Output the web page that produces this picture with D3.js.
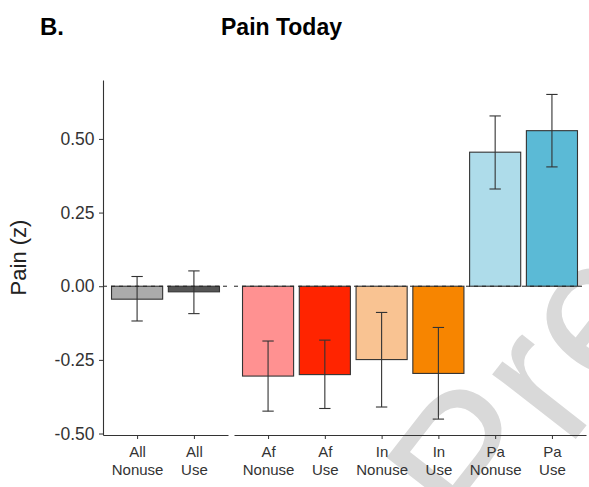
<!DOCTYPE html>
<html>
<head>
<meta charset="utf-8">
<script src="https://cdn.jsdelivr.net/npm/d3@7"></script>
<style>
  body { margin: 0; background: #fff; }
  svg { font-family: "Liberation Sans", Arial, Helvetica, sans-serif; }
</style>
</head>
<body>
<svg width="589" height="487"></svg>
<script>
// groups of bars (two facets)
const groupAll = ['All Nonuse', 'All Use'];
const groupSub = ['Af Nonuse', 'Af Use', 'In Nonuse', 'In Use', 'Pa Nonuse', 'Pa Use'];
// mean pain (z) with error bar ends
const meanPain = [-0.044, -0.019, -0.305, -0.300, -0.249, -0.296, 0.455, 0.528];
const lowPain = [-0.118, -0.093, -0.424, -0.415, -0.410, -0.451, 0.330, 0.405];
const highPain = [0.033, 0.052, -0.186, -0.183, -0.089, -0.140, 0.578, 0.651];
const barColors = ['#ababab', '#555555', '#ff9191', '#ff2400', '#f9c392', '#f78500', '#aedcea', '#5bbad6'];
const yTicks = [-0.50, -0.25, 0.00, 0.25, 0.50];

const allCats = groupAll.concat(groupSub);
const data = allCats.map((c, i) => ({
  cat: c, mean: meanPain[i], lo: lowPain[i], hi: highPain[i], color: barColors[i],
  facet: i < groupAll.length ? 0 : 1
}));

const svg = d3.select('svg');
const plotTop = 80, plotBottom = 435;

const y = d3.scaleLinear()
  .domain([-0.505, 0.70])
  .range([plotBottom, plotTop]);

// facet panels
const panels = [
  { cats: groupAll, x0: 103, x1: 228 },
  { cats: groupSub, x0: 234, x1: 586 }
];

// big preprint watermark, mostly outside the picture
svg.append('text')
  .attr('transform', 'translate(485,555) rotate(-52)')
  .attr('font-size', 200)
  .attr('fill', '#d9d9d9')
  .text('Preprint');

panels.forEach((p, pi) => {
  const x = d3.scalePoint()
    .domain(p.cats)
    .range([p.x0, p.x1])
    .padding(0.6);
  const bw = x.step() * 0.9;
  const g = svg.append('g');
  const rows = data.filter(d => d.facet === pi);

  g.selectAll('rect.bar')
    .data(rows)
    .enter()
    .append('rect')
    .attr('class', 'bar')
    .attr('x', d => x(d.cat) - bw / 2)
    .attr('y', d => y(Math.max(0, d.mean)))
    .attr('width', bw)
    .attr('height', d => Math.abs(y(d.mean) - y(0)))
    .attr('fill', d => d.color)
    .attr('stroke', '#333')
    .attr('stroke-width', 1.1);

  // error bars
  const cap = x.step() * 0.1;
  const eb = g.selectAll('g.err')
    .data(rows)
    .enter()
    .append('g')
    .attr('stroke', '#333')
    .attr('stroke-width', 1.1);
  eb.append('line')
    .attr('x1', d => x(d.cat)).attr('x2', d => x(d.cat))
    .attr('y1', d => y(d.lo)).attr('y2', d => y(d.hi));
  eb.append('line')
    .attr('x1', d => x(d.cat) - cap).attr('x2', d => x(d.cat) + cap)
    .attr('y1', d => y(d.hi)).attr('y2', d => y(d.hi));
  eb.append('line')
    .attr('x1', d => x(d.cat) - cap).attr('x2', d => x(d.cat) + cap)
    .attr('y1', d => y(d.lo)).attr('y2', d => y(d.lo));

  // zero reference line
  g.append('line')
    .attr('x1', p.x0).attr('x2', p.x1)
    .attr('y1', y(0)).attr('y2', y(0))
    .attr('stroke', '#222')
    .attr('stroke-width', 1)
    .attr('stroke-dasharray', '4,4');

  // x axis
  const xa = g.append('g')
    .attr('transform', `translate(0, ${plotBottom})`)
    .call(d3.axisBottom(x).tickSize(4).tickSizeOuter(0));
  xa.select('.domain').attr('stroke', '#333').attr('stroke-width', 1.1);
  xa.selectAll('.tick line').attr('stroke', '#333');
  xa.selectAll('.tick text').each(function (d) {
    const t = d3.select(this).text('')
      .attr('font-size', 15)
      .attr('fill', '#333')
      .attr('y', 0)
      .attr('dy', null);
    const parts = d.split(' ');
    t.append('tspan').attr('x', 0).attr('y', 22).text(parts[0]);
    t.append('tspan').attr('x', 0).attr('y', 39.5).text(parts[1]);
  });
});

// y axis
const ya = svg.append('g')
  .attr('transform', 'translate(103,0)')
  .call(d3.axisLeft(y).tickValues(yTicks).tickFormat(d => d.toFixed(2)).tickSize(4).tickSizeOuter(0));
ya.select('.domain').attr('stroke', '#333').attr('stroke-width', 1.1);
ya.selectAll('.tick line').attr('stroke', '#333');
ya.selectAll('.tick text')
  .attr('font-size', 17.5)
  .attr('fill', '#333')
  .attr('x', -8.5);

// y axis title
svg.append('text')
  .attr('transform', `translate(26, ${(plotTop + plotBottom) / 2}) rotate(-90)`)
  .attr('text-anchor', 'middle')
  .attr('font-size', 22)
  .attr('fill', '#222')
  .text('Pain (z)');

// titles
svg.append('text')
  .attr('x', 281.5).attr('y', 35)
  .attr('text-anchor', 'middle')
  .attr('font-size', 23)
  .attr('font-weight', 'bold')
  .text('Pain Today');

svg.append('text')
  .attr('x', 40).attr('y', 34.5)
  .attr('font-size', 24)
  .attr('font-weight', 'bold')
  .text('B.');
</script>
</body>
</html>
